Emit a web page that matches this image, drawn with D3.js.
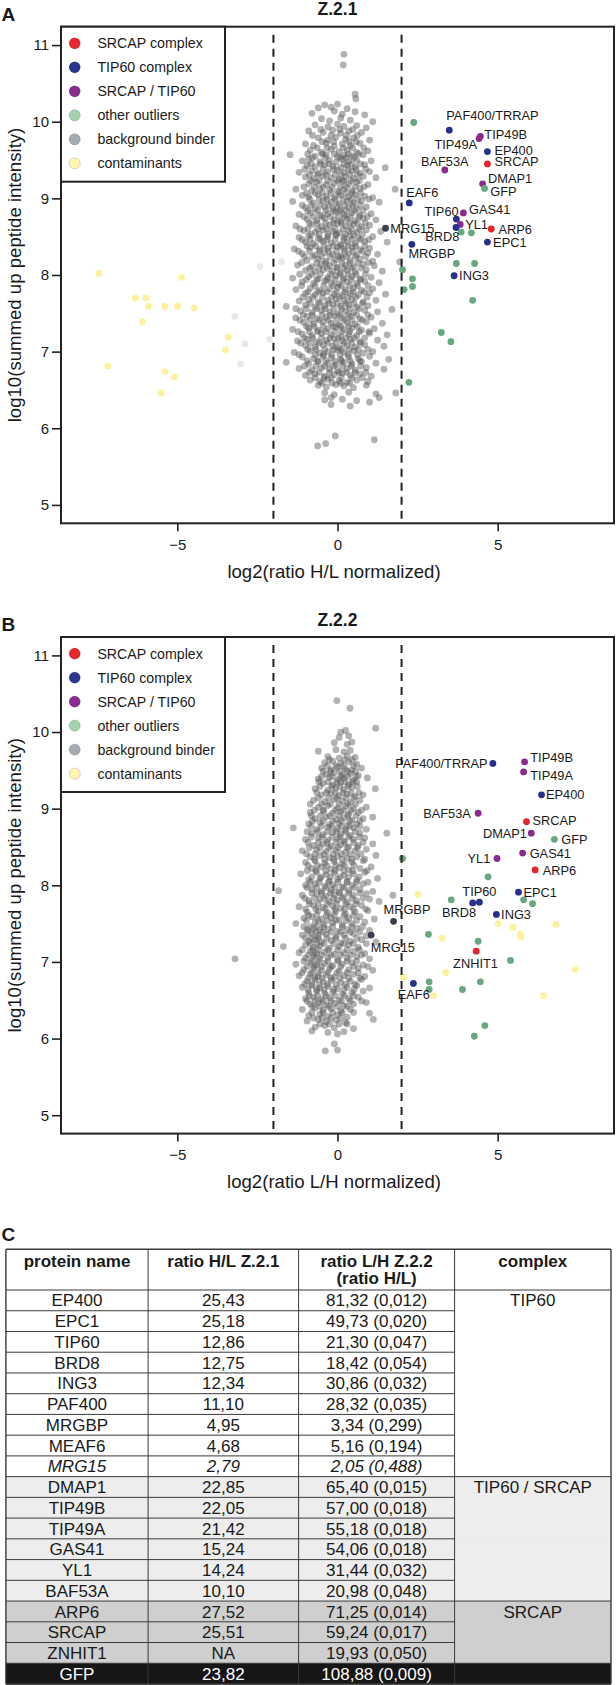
<!DOCTYPE html>
<html><head><meta charset="utf-8">
<script src="https://cdn.jsdelivr.net/npm/d3@7"></script>
<style>
body{margin:0;background:#fff}
svg text{font-family:"Liberation Sans",Arial,Helvetica,sans-serif;fill:#1a1a1a}
</style></head>
<body><svg id="c" width="616" height="1685"></svg>
<script>
// ---------- DATA ----------
const xTicks=[-5,0,5];
const yTicks=[5,6,7,8,9,10,11];
const cutoffs=[-2,2];
const panelTitles=["Z.2.1","Z.2.2"];
const xTitles=["log2(ratio H/L normalized)","log2(ratio L/H normalized)"];
const yTitle="log10(summed up peptide intensity)";
const legendLabels=["SRCAP complex","TIP60 complex","SRCAP / TIP60","other outliers","background binder","contaminants"];

// highlighted proteins: [name, log2 ratio, log10 intensity, group]
const hitsA=[
["PAF400/TRRAP",3.49,9.89,"tip"],["TIP49B",4.46,9.81,"both"],["TIP49A",4.42,9.78,"both"],
["EP400",4.68,9.61,"tip"],["SRCAP",4.68,9.45,"srcap"],["BAF53A",3.35,9.37,"both"],
["DMAP1",4.53,9.19,"both"],["GFP",4.59,9.13,"other"],["EAF6",2.24,8.94,"tip"],
["GAS41",3.93,8.81,"both"],["TIP60",3.71,8.73,"tip"],["YL1",3.83,8.66,"both"],
["BRD8",3.70,8.62,"tip"],["ARP6",4.80,8.60,"srcap"],["EPC1",4.68,8.43,"tip"],
["MRG15",1.50,8.61,"dark"],["MRGBP",2.32,8.40,"tip"],["ING3",3.64,7.99,"tip"]];
const hitsB=[
["PAF400/TRRAP",4.85,9.59,"tip"],["TIP49B",5.84,9.61,"both"],["TIP49A",5.81,9.48,"both"],
["EP400",6.37,9.18,"tip"],["BAF53A",4.39,8.94,"both"],["SRCAP",5.90,8.83,"srcap"],
["DMAP1",6.05,8.68,"both"],["GFP",6.77,8.60,"other"],["YL1",4.98,8.35,"both"],
["GAS41",5.78,8.42,"both"],["ARP6",6.17,8.20,"srcap"],["EPC1",5.65,7.91,"tip"],
["TIP60",4.43,7.78,"tip"],["BRD8",4.22,7.77,"tip"],["ING3",4.96,7.62,"tip"],
["MRGBP",1.75,7.53,"dark"],["MRG15",1.05,7.35,"dark"],["ZNHIT1",4.33,7.14,"srcap"],
["EAF6",2.37,6.72,"tip"]];

const otherA=[[2.38,9.99],[3.86,8.56],[4.18,8.55],[3.71,8.15],[4.28,8.15],[2.34,7.95],[2.34,7.85],[2.08,7.81],[2.03,8.07],[4.22,7.67],[3.24,7.25],[3.54,7.13],[2.23,6.60]];
const otherB=[[4.70,8.11],[3.55,7.81],[5.81,7.81],[6.09,7.76],[2.84,7.36],[4.39,7.27],[5.40,7.02],[2.86,6.74],[4.46,6.74],[3.90,6.64],[2.86,6.64],[2.03,8.35],[4.60,6.17],[4.27,6.03]];
const contamA=[[-7.45,8.02],[-4.87,7.97],[-6.31,7.70],[-5.98,7.70],[-5.90,7.59],[-5.39,7.59],[-4.99,7.59],[-4.47,7.57],[-6.09,7.39],[-3.41,7.19],[-3.50,7.02],[-7.17,6.81],[-5.39,6.74],[-5.09,6.67],[-5.51,6.46]];
const contamB=[[2.51,7.88],[3.26,7.31],[5.01,7.50],[5.48,7.45],[5.73,7.33],[5.70,7.36],[6.82,7.49],[7.43,6.90],[3.38,6.86],[2.06,6.80],[3.00,6.56],[6.43,6.56]];
const faintA=[[-2.42,8.11],[-1.75,8.17],[-3.21,7.46],[-2.89,7.10],[-2.12,7.16],[-3.03,6.84],[-1.98,7.79]];

const bgA=[[0.2,10.88],[0.18,10.74],[0.55,10.36],[0.57,10.30],
[-0.6,10.18],[-0.4,10.22],[-0.2,10.19],[0.0,10.23],[0.3,10.17],
[-0.8,10.11],[-0.1,10.14],[0.15,10.1],[0.55,10.13],[0.85,10.09],
[-0.5,10.04],[-0.25,10.01],[0.1,10.05],[0.4,10.02],[1.1,10.0],
[-0.7,9.96],[-0.3,9.93],[0.0,9.97],[0.2,9.94],[0.6,9.95],[0.9,9.92],
[-0.9,9.88],[-0.45,9.86],[-0.15,9.89],[0.1,9.85],[0.35,9.88],[0.75,9.86],
[-0.6,9.79],[-0.3,9.76],[-0.05,9.8],[0.25,9.77],[0.5,9.79],[1.0,9.76],
[-1.0,9.71],[-0.75,9.69],[-0.35,9.72],[-0.1,9.68],[0.15,9.71],[0.4,9.69],[0.7,9.72],
[-0.85,9.63],[-0.5,9.6],[-0.2,9.64],[0.05,9.61],[0.3,9.63],[0.6,9.6],[0.95,9.62],
[-1.48,9.57],[-0.7,9.55],[-0.35,9.57],[0.0,9.54],[0.2,9.56],[0.45,9.55],[0.8,9.57],
[-1.1,9.49],[-0.9,9.51],[-0.55,9.48],[-0.25,9.5],[-0.05,9.47],[0.15,9.51],[0.35,9.48],[0.6,9.5],[1.05,9.49],
[-0.95,9.43],[-0.7,9.41],[-0.4,9.44],[-0.15,9.42],[0.1,9.4],[0.3,9.43],[0.55,9.41],[0.85,9.44],[1.49,9.4],
[-1.2,9.34],[-0.8,9.36],[-0.6,9.33],[-0.3,9.35],[0.0,9.37],[0.2,9.34],[0.45,9.36],[0.7,9.33],[1.0,9.35],
[-1.0,9.28],[-0.75,9.26],[-0.45,9.29],[-0.2,9.27],[0.05,9.25],[0.25,9.28],[0.5,9.26],[0.8,9.29],[1.2,9.27],
[-0.9,9.19],[-0.65,9.21],[-0.35,9.18],[-0.1,9.2],[0.15,9.22],[0.35,9.19],[0.6,9.21],[0.95,9.18],
[-1.3,9.12],[-0.8,9.1],[-0.55,9.13],[-0.25,9.11],[0.0,9.09],[0.2,9.12],[0.45,9.1],[0.7,9.13],[1.8,9.12],
[-1.1,9.04],[-0.9,9.02],[-0.6,9.05],[-0.35,9.03],[-0.1,9.01],[0.1,9.04],[0.35,9.02],[0.55,9.05],[0.85,9.03],[1.1,9.01],
[-1.4,8.96],[-0.75,8.94],[-0.45,8.97],[-0.2,8.95],[0.05,8.93],[0.3,8.96],[0.5,8.94],[0.75,8.97],[1.3,8.95],
[-1.0,8.88],[-0.7,8.86],[-0.4,8.89],[-0.15,8.87],[0.1,8.85],[0.35,8.88],[0.6,8.86],[0.9,8.89],
[-1.2,8.79],[-0.85,8.81],[-0.55,8.78],[-0.3,8.8],[-0.05,8.82],[0.2,8.79],[0.45,8.81],[0.7,8.78],[1.05,8.8],
[-0.95,8.73],[-0.65,8.71],[-0.4,8.74],[-0.1,8.72],[0.1,8.7],[0.3,8.73],[0.55,8.71],[0.8,8.74],[1.2,8.72],
[-1.3,8.64],[-0.8,8.66],[-0.5,8.63],[-0.25,8.65],[0.0,8.67],[0.25,8.64],[0.5,8.66],[0.75,8.63],[1.0,8.65],
[-1.05,8.58],[-0.7,8.56],[-0.45,8.59],[-0.15,8.57],[0.05,8.55],[0.35,8.58],[0.6,8.56],[0.9,8.59],[1.35,8.57],
[-1.2,8.49],[-0.9,8.51],[-0.6,8.48],[-0.3,8.5],[-0.05,8.52],[0.2,8.49],[0.4,8.51],[0.65,8.48],[1.1,8.5],
[-1.0,8.43],[-0.75,8.41],[-0.45,8.44],[-0.2,8.42],[0.1,8.4],[0.3,8.43],[0.55,8.41],[0.85,8.44],[1.55,8.43],
[-1.35,8.34],[-0.85,8.36],[-0.55,8.33],[-0.3,8.35],[0.0,8.37],[0.2,8.34],[0.45,8.36],[0.7,8.33],[1.0,8.35],
[-1.1,8.28],[-0.7,8.26],[-0.4,8.29],[-0.15,8.27],[0.1,8.25],[0.35,8.28],[0.6,8.26],[0.95,8.29],[1.25,8.27],
[-0.95,8.19],[-0.6,8.21],[-0.35,8.18],[-0.05,8.2],[0.15,8.22],[0.4,8.19],[0.7,8.21],[1.1,8.18],[1.94,8.17],
[-1.25,8.13],[-0.8,8.11],[-0.5,8.14],[-0.25,8.12],[0.0,8.1],[0.25,8.13],[0.5,8.11],[0.8,8.14],[1.15,8.12],
[-1.0,8.06],[-0.7,8.04],[-0.45,8.07],[-0.15,8.05],[0.1,8.03],[0.3,8.06],[0.55,8.04],[0.9,8.07],[1.4,8.05],
[-1.4,7.96],[-0.9,7.98],[-0.6,7.95],[-0.3,7.97],[-0.05,7.99],[0.2,7.96],[0.45,7.98],[0.7,7.95],[1.05,7.97],
[-1.1,7.91],[-0.75,7.89],[-0.4,7.92],[-0.2,7.9],[0.05,7.88],[0.3,7.91],[0.6,7.89],[0.85,7.92],[1.3,7.9],
[-1.3,7.81],[-0.85,7.83],[-0.55,7.8],[-0.25,7.82],[0.0,7.84],[0.25,7.81],[0.5,7.83],[0.75,7.8],[1.1,7.82],
[-1.0,7.76],[-0.7,7.74],[-0.45,7.77],[-0.1,7.75],[0.15,7.73],[0.4,7.76],[0.65,7.74],[1.0,7.77],[1.5,7.75],
[-1.2,7.66],[-0.9,7.68],[-0.6,7.65],[-0.3,7.67],[-0.05,7.69],[0.2,7.66],[0.45,7.68],[0.8,7.65],[1.2,7.67],
[-1.6,7.59],[-1.0,7.61],[-0.7,7.58],[-0.4,7.6],[-0.15,7.62],[0.1,7.59],[0.35,7.61],[0.6,7.58],[0.95,7.6],
[-1.15,7.53],[-0.8,7.51],[-0.5,7.54],[-0.25,7.52],[0.0,7.5],[0.25,7.53],[0.5,7.51],[0.85,7.54],[1.25,7.52],[1.7,7.55],
[-1.3,7.44],[-0.95,7.46],[-0.65,7.43],[-0.35,7.45],[-0.1,7.47],[0.15,7.44],[0.4,7.46],[0.7,7.43],[1.05,7.45],
[-1.05,7.38],[-0.75,7.36],[-0.45,7.39],[-0.2,7.37],[0.05,7.35],[0.3,7.38],[0.55,7.36],[0.9,7.39],[1.4,7.37],
[-1.4,7.29],[-0.9,7.31],[-0.6,7.28],[-0.3,7.3],[-0.05,7.32],[0.2,7.29],[0.45,7.31],[0.75,7.28],[1.15,7.3],
[-1.1,7.23],[-0.8,7.21],[-0.5,7.24],[-0.2,7.22],[0.1,7.2],[0.35,7.23],[0.6,7.21],[1.0,7.24],[1.55,7.22],
[-1.25,7.14],[-0.95,7.16],[-0.65,7.13],[-0.35,7.15],[-0.1,7.17],[0.15,7.14],[0.4,7.16],[0.7,7.13],[1.25,7.15],
[-1.0,7.08],[-0.7,7.06],[-0.45,7.09],[-0.15,7.07],[0.05,7.05],[0.3,7.08],[0.55,7.06],[0.85,7.09],[1.45,7.07],
[-1.35,6.99],[-0.85,7.01],[-0.55,6.98],[-0.3,7.0],[0.0,7.02],[0.2,6.99],[0.5,7.01],[0.8,6.98],[1.1,7.0],
[-1.1,6.93],[-0.75,6.91],[-0.45,6.94],[-0.2,6.92],[0.1,6.9],[0.35,6.93],[0.65,6.91],[1.0,6.94],[1.6,6.9],
[-1.6,6.86],[-0.9,6.84],[-0.6,6.87],[-0.3,6.85],[-0.05,6.83],[0.2,6.86],[0.45,6.84],[0.75,6.87],[1.2,6.85],
[-1.2,6.78],[-0.8,6.76],[-0.5,6.79],[-0.25,6.77],[0.0,6.75],[0.3,6.78],[0.55,6.76],[0.9,6.79],[1.45,6.77],
[-1.0,6.69],[-0.7,6.71],[-0.4,6.68],[-0.1,6.7],[0.15,6.72],[0.4,6.69],[0.7,6.71],[1.05,6.68],
[-0.85,6.63],[-0.55,6.61],[-0.3,6.64],[0.05,6.62],[0.3,6.6],[0.6,6.63],[0.95,6.61],
[-0.6,6.56],[-0.35,6.54],[-0.05,6.57],[0.2,6.55],[0.5,6.53],[0.9,6.56],
[-0.4,6.46],[-0.1,6.44],[0.35,6.47],[1.2,6.45],[1.82,6.46],
[-0.4,6.37],[-0.2,6.4],[0.15,6.38],[0.6,6.36],[1.0,6.34],[1.3,6.4],
[-0.2,6.31],[0.4,6.29],[-0.07,5.9],[1.15,5.85],[-0.37,5.8],[-0.62,5.77]];

const coreA=[[-0.52,9.9],[0.07,9.9],[0.48,9.9],
[-0.78,9.82],[-0.2,9.82],[0.28,9.82],[0.62,9.82],
[-0.48,9.74],[-0.12,9.74],[0.36,9.74],[0.58,9.74],
[-0.63,9.66],[-0.33,9.66],[0.18,9.66],[0.47,9.66],[0.82,9.66],
[-0.93,9.58],[-0.47,9.58],[-0.1,9.58],[0.34,9.58],[0.66,9.58],
[-0.78,9.53],[-0.38,9.53],[0.08,9.53],[0.27,9.53],[0.52,9.53],
[-0.82,9.45],[-0.53,9.45],[-0.27,9.45],[0.2,9.45],[0.43,9.45],[0.72,9.45],
[-1.02,9.38],[-0.45,9.38],[-0.12,9.38],[0.33,9.38],[0.58,9.38],[0.88,9.38],
[-0.88,9.31],[-0.62,9.31],[-0.37,9.31],[-0.07,9.31],[0.12,9.31],[0.38,9.31],[0.62,9.31],
[-0.83,9.23],[-0.57,9.23],[-0.3,9.23],[0.0,9.23],[0.2,9.23],[0.43,9.23],[0.68,9.23],
[-1.05,9.15],[-0.72,9.15],[-0.45,9.15],[-0.17,9.15],[0.09,9.15],[0.28,9.15],[0.55,9.15],[0.83,9.15],
[-0.97,9.07],[-0.7,9.07],[-0.47,9.07],[-0.2,9.07],[0.05,9.07],[0.27,9.07],[0.47,9.07],[0.72,9.07],
[-0.87,8.99],[-0.57,8.99],[-0.33,8.99],[-0.07,8.99],[0.18,8.99],[0.42,8.99],[0.63,8.99],[0.98,8.99],
[-1.1,8.91],[-0.82,8.91],[-0.55,8.91],[-0.28,8.91],[-0.02,8.91],[0.22,8.91],[0.47,8.91],[0.7,8.91],
[-0.93,8.84],[-0.62,8.84],[-0.37,8.84],[-0.12,8.84],[0.07,8.84],[0.28,8.84],[0.53,8.84],[0.8,8.84],
[-1.05,8.76],[-0.75,8.76],[-0.48,8.76],[-0.22,8.76],[0.03,8.76],[0.23,8.76],[0.4,8.76],[0.67,8.76],[0.93,8.76],
[-0.88,8.68],[-0.63,8.68],[-0.37,8.68],[-0.13,8.68],[0.12,8.68],[0.38,8.68],[0.62,8.68],[0.87,8.68],
[-1.17,8.6],[-0.92,8.6],[-0.62,8.6],[-0.33,8.6],[-0.08,8.6],[0.17,8.6],[0.43,8.6],[0.68,8.6],
[-0.83,8.53],[-0.57,8.53],[-0.3,8.53],[-0.03,8.53],[0.25,8.53],[0.5,8.53],[0.78,8.53],
[-1.1,8.46],[-0.85,8.46],[-0.53,8.46],[-0.33,8.46],[-0.07,8.46],[0.2,8.46],[0.45,8.46],[0.72,8.46],[0.98,8.46],
[-0.95,8.38],[-0.68,8.38],[-0.42,8.38],[-0.13,8.38],[0.1,8.38],[0.33,8.38],[0.57,8.38],[0.85,8.38],
[-1.22,8.31],[-0.88,8.31],[-0.57,8.31],[-0.28,8.31],[-0.03,8.31],[0.22,8.31],[0.48,8.31],[0.78,8.31],
[-1.03,8.24],[-0.78,8.24],[-0.5,8.24],[-0.23,8.24],[0.03,8.24],[0.28,8.24],[0.55,8.24],[0.88,8.24],
[-1.12,8.16],[-0.65,8.16],[-0.38,8.16],[-0.12,8.16],[0.13,8.16],[0.38,8.16],[0.63,8.16],[0.97,8.16],
[-0.87,8.09],[-0.58,8.09],[-0.32,8.09],[-0.02,8.09],[0.2,8.09],[0.43,8.09],[0.73,8.09],
[-1.18,8.01],[-0.8,8.01],[-0.53,8.01],[-0.22,8.01],[0.07,8.01],[0.33,8.01],[0.58,8.01],[0.87,8.01],
[-0.97,7.94],[-0.65,7.94],[-0.33,7.94],[-0.08,7.94],[0.17,7.94],[0.43,7.94],[0.73,7.94],
[-1.12,7.86],[-0.7,7.86],[-0.43,7.86],[-0.13,7.86],[0.12,7.86],[0.38,7.86],[0.63,7.86],[0.95,7.86],
[-0.92,7.78],[-0.62,7.78],[-0.33,7.78],[-0.03,7.78],[0.22,7.78],[0.48,7.78],[0.83,7.78],
[-1.08,7.71],[-0.77,7.71],[-0.47,7.71],[-0.18,7.71],[0.07,7.71],[0.32,7.71],[0.57,7.71],[0.92,7.71],
[-0.85,7.63],[-0.55,7.63],[-0.27,7.63],[0.0,7.63],[0.27,7.63],[0.52,7.63],[0.78,7.63],
[-1.3,7.56],[-0.97,7.56],[-0.65,7.56],[-0.38,7.56],[-0.12,7.56],[0.13,7.56],[0.38,7.56],[0.67,7.56],
[-1.07,7.48],[-0.78,7.48],[-0.48,7.48],[-0.22,7.48],[0.08,7.48],[0.33,7.48],[0.6,7.48],[0.95,7.48],
[-1.17,7.41],[-0.85,7.41],[-0.57,7.41],[-0.28,7.41],[-0.03,7.41],[0.22,7.41],[0.45,7.41],[0.77,7.41],
[-0.97,7.33],[-0.73,7.33],[-0.45,7.33],[-0.13,7.33],[0.1,7.33],[0.35,7.33],[0.62,7.33],
[-1.23,7.26],[-0.88,7.26],[-0.63,7.26],[-0.37,7.26],[-0.08,7.26],[0.13,7.26],[0.38,7.26],[0.68,7.26],[0.98,7.26],
[-1.03,7.18],[-0.78,7.18],[-0.5,7.18],[-0.23,7.18],[0.02,7.18],[0.27,7.18],[0.52,7.18],[0.85,7.18],
[-1.15,7.11],[-0.85,7.11],[-0.57,7.11],[-0.3,7.11],[-0.05,7.11],[0.2,7.11],[0.45,7.11],[0.72,7.11],
[-0.93,7.03],[-0.67,7.03],[-0.4,7.03],[-0.12,7.03],[0.12,7.03],[0.37,7.03],[0.65,7.03],[0.95,7.03],
[-1.2,6.96],[-0.7,6.96],[-0.43,6.96],[-0.17,6.96],[0.08,6.96],[0.33,6.96],[0.62,6.96],
[-0.95,6.88],[-0.62,6.88],[-0.37,6.88],[-0.08,6.88],[0.13,6.88],[0.4,6.88],[0.7,6.88],
[-1.03,6.81],[-0.68,6.81],[-0.4,6.81],[-0.12,6.81],[0.15,6.81],[0.43,6.81],[0.72,6.81],
[-0.87,6.73],[-0.57,6.73],[-0.25,6.73],[0.05,6.73],[0.28,6.73],[0.55,6.73],[0.88,6.73],
[-0.7,6.66],[-0.42,6.66],[-0.2,6.66],[0.12,6.66],[0.45,6.66],[0.78,6.66],
[-0.48,6.59],[-0.17,6.59],[0.1,6.59],[0.38,6.59]];

const bgB=[[-0.02,10.41],[0.39,10.31],[1.19,10.05],[0.1,10.0],[0.25,10.02],[0.05,9.93],[0.35,9.95],
[-0.1,9.86],[0.3,9.84],[0.45,9.87],[-0.6,9.75],[-0.05,9.77],[0.2,9.74],[0.4,9.76],
[-0.3,9.68],[0.05,9.66],[0.3,9.69],[0.55,9.67],[-0.4,9.6],[-0.15,9.62],[0.1,9.59],[0.35,9.61],[0.6,9.58],
[-0.5,9.53],[-0.2,9.51],[0.0,9.54],[0.25,9.52],[0.45,9.5],[0.75,9.53],
[-0.35,9.45],[-0.1,9.47],[0.15,9.44],[0.4,9.46],[0.65,9.43],
[-0.6,9.39],[-0.25,9.41],[0.0,9.38],[0.2,9.4],[0.5,9.37],[0.93,9.4],
[-0.45,9.33],[-0.15,9.31],[0.1,9.34],[0.35,9.32],[0.6,9.35],
[-0.7,9.26],[-0.3,9.24],[-0.05,9.27],[0.2,9.25],[0.45,9.28],[1.18,9.26],
[-0.5,9.18],[-0.2,9.2],[0.05,9.17],[0.3,9.19],[0.55,9.16],[0.8,9.18],
[-0.75,9.11],[-0.4,9.09],[-0.1,9.12],[0.15,9.1],[0.4,9.08],[0.7,9.11],
[-0.6,9.02],[-0.3,9.04],[0.0,9.01],[0.25,9.03],[0.5,9.0],[0.9,9.02],
[-0.85,8.95],[-0.45,8.97],[-0.15,8.94],[0.1,8.96],[0.35,8.93],[0.65,8.95],
[-0.7,8.87],[-0.35,8.89],[-0.05,8.86],[0.2,8.88],[0.45,8.85],[0.8,8.87],[1.1,8.89],
[-0.9,8.8],[-0.55,8.82],[-0.25,8.79],[0.05,8.81],[0.3,8.78],[0.6,8.8],
[-1.38,8.75],[-0.65,8.73],[-0.3,8.76],[0.0,8.74],[0.25,8.72],[0.5,8.75],[0.9,8.73],
[-0.8,8.68],[-0.45,8.66],[-0.15,8.69],[0.1,8.67],[0.4,8.65],[0.7,8.68],[1.54,8.68],
[-1.0,8.6],[-0.6,8.62],[-0.3,8.59],[0.0,8.61],[0.2,8.58],[0.5,8.6],[0.85,8.62],
[-0.75,8.52],[-0.45,8.54],[-0.2,8.51],[0.1,8.53],[0.35,8.5],[0.65,8.52],[1.1,8.54],
[-1.1,8.45],[-0.65,8.47],[-0.35,8.44],[-0.05,8.46],[0.25,8.43],[0.55,8.45],[0.9,8.47],
[-0.85,8.37],[-0.55,8.39],[-0.25,8.36],[0.0,8.38],[0.3,8.35],[0.6,8.37],[1.2,8.39],
[-1.0,8.3],[-0.7,8.32],[-0.4,8.29],[-0.1,8.31],[0.15,8.28],[0.45,8.3],[0.8,8.32],
[-0.8,8.22],[-0.5,8.24],[-0.2,8.21],[0.05,8.23],[0.35,8.2],[0.7,8.22],[1.05,8.24],
[-1.15,8.15],[-0.65,8.17],[-0.35,8.14],[-0.1,8.16],[0.2,8.13],[0.5,8.15],[0.85,8.17],
[-0.9,8.07],[-0.55,8.09],[-0.25,8.06],[0.0,8.08],[0.3,8.05],[0.6,8.07],[1.25,8.09],
[-1.0,8.0],[-0.7,8.02],[-0.4,7.99],[-0.15,8.01],[0.15,7.98],[0.45,8.0],[0.8,8.02],
[-1.84,7.93],[-0.8,7.95],[-0.5,7.92],[-0.2,7.94],[0.05,7.91],[0.35,7.93],[0.7,7.95],[1.1,7.92],
[-1.1,7.87],[-0.65,7.89],[-0.35,7.86],[-0.1,7.88],[0.2,7.85],[0.5,7.87],[0.9,7.89],[1.73,7.87],
[-0.9,7.8],[-0.55,7.82],[-0.25,7.79],[0.0,7.81],[0.3,7.78],[0.6,7.8],[1.0,7.82],[1.3,7.79],
[-1.2,7.72],[-0.75,7.74],[-0.45,7.71],[-0.15,7.73],[0.1,7.7],[0.4,7.72],[0.75,7.74],
[-0.95,7.65],[-0.6,7.67],[-0.3,7.64],[-0.05,7.66],[0.25,7.63],[0.55,7.65],[0.95,7.67],
[-1.05,7.57],[-0.8,7.59],[-0.5,7.56],[-0.2,7.58],[0.05,7.55],[0.35,7.57],[0.7,7.59],[1.15,7.56],
[-1.3,7.5],[-0.7,7.52],[-0.45,7.49],[-0.15,7.51],[0.15,7.48],[0.45,7.5],[0.85,7.52],
[-0.95,7.42],[-0.75,7.44],[-0.55,7.41],[-0.3,7.43],[0.0,7.4],[0.3,7.42],[0.6,7.44],[1.0,7.41],
[-1.1,7.35],[-0.8,7.37],[-0.6,7.34],[-0.35,7.36],[-0.05,7.33],[0.2,7.35],[0.5,7.37],[0.9,7.34],
[-0.9,7.27],[-0.7,7.29],[-0.5,7.26],[-0.2,7.28],[0.1,7.25],[0.4,7.27],[0.75,7.29],[1.2,7.26],
[-1.69,7.2],[-1.0,7.22],[-0.75,7.19],[-0.55,7.21],[-0.25,7.18],[0.05,7.2],[0.35,7.22],[0.65,7.19],
[-1.2,7.12],[-0.85,7.14],[-0.65,7.11],[-0.4,7.13],[-0.1,7.1],[0.2,7.12],[0.5,7.14],[0.85,7.11],
[-1.0,7.05],[-0.75,7.07],[-0.55,7.04],[-0.3,7.06],[0.0,7.03],[0.3,7.05],[0.6,7.07],[1.0,7.04],[-3.2,7.04],
[-1.3,6.97],[-0.85,6.99],[-0.65,6.96],[-0.4,6.98],[-0.15,6.95],[0.15,6.97],[0.45,6.99],[0.8,6.96],
[-1.05,6.9],[-0.75,6.92],[-0.5,6.89],[-0.25,6.91],[0.05,6.88],[0.35,6.9],[0.65,6.92],[1.1,6.89],
[-1.2,6.82],[-0.85,6.84],[-0.6,6.81],[-0.35,6.83],[-0.1,6.8],[0.2,6.82],[0.5,6.84],[0.85,6.81],
[-0.95,6.75],[-0.7,6.77],[-0.45,6.74],[-0.2,6.76],[0.1,6.73],[0.4,6.75],[0.75,6.77],
[-1.1,6.67],[-0.8,6.69],[-0.55,6.66],[-0.3,6.68],[0.0,6.65],[0.3,6.67],[0.6,6.69],[1.0,6.66],
[-0.9,6.6],[-0.65,6.62],[-0.4,6.59],[-0.15,6.61],[0.15,6.58],[0.45,6.6],[0.8,6.62],
[-1.0,6.52],[-0.75,6.54],[-0.5,6.51],[-0.25,6.53],[0.05,6.5],[0.35,6.52],[0.65,6.54],
[-0.85,6.45],[-0.6,6.47],[-0.35,6.44],[-0.1,6.46],[0.2,6.43],[0.5,6.45],[0.9,6.47],
[-1.1,6.38],[-0.7,6.4],[-0.45,6.37],[-0.2,6.39],[0.1,6.36],[0.4,6.38],
[-0.9,6.3],[-0.55,6.32],[-0.3,6.29],[0.0,6.31],[0.3,6.28],[1.0,6.33],
[-0.95,6.23],[-0.6,6.25],[-0.35,6.22],[-0.05,6.24],[0.25,6.21],[1.12,6.25],
[-0.7,6.15],[-0.4,6.17],[-0.1,6.14],[0.5,6.13],[-0.8,6.1],[-0.3,6.08],[0.0,6.06],[0.2,6.09],
[-0.1,5.93],[-0.38,5.84],[0.0,5.85]];

const coreB=[[-0.25,9.64],[0.22,9.64],[0.45,9.64],
[-0.32,9.56],[-0.05,9.56],[0.18,9.56],[0.5,9.56],
[-0.45,9.49],[-0.22,9.49],[0.08,9.49],[0.3,9.49],[0.57,9.49],
[-0.5,9.42],[-0.17,9.42],[0.1,9.42],[0.32,9.42],[0.58,9.42],
[-0.58,9.35],[-0.3,9.35],[-0.02,9.35],[0.22,9.35],[0.47,9.35],
[-0.55,9.29],[-0.18,9.29],[0.07,9.29],[0.33,9.29],[0.62,9.29],
[-0.65,9.21],[-0.35,9.21],[-0.07,9.21],[0.17,9.21],[0.42,9.21],[0.67,9.21],
[-0.6,9.14],[-0.28,9.14],[-0.02,9.14],[0.27,9.14],[0.5,9.14],
[-0.85,9.06],[-0.5,9.06],[-0.22,9.06],[0.05,9.06],[0.32,9.06],[0.57,9.06],
[-0.72,8.98],[-0.43,8.98],[-0.07,8.98],[0.18,8.98],[0.42,8.98],[0.75,8.98],
[-0.82,8.91],[-0.53,8.91],[-0.25,8.91],[0.05,8.91],[0.32,8.91],[0.58,8.91],
[-0.78,8.84],[-0.45,8.84],[-0.15,8.84],[0.12,8.84],[0.38,8.84],[0.7,8.84],
[-0.82,8.77],[-0.5,8.77],[-0.17,8.77],[0.12,8.77],[0.38,8.77],[0.7,8.77],
[-0.95,8.7],[-0.62,8.7],[-0.32,8.7],[-0.03,8.7],[0.25,8.7],[0.55,8.7],
[-0.82,8.63],[-0.48,8.63],[-0.17,8.63],[0.08,8.63],[0.35,8.63],[0.68,8.63],
[-0.92,8.56],[-0.6,8.56],[-0.33,8.56],[-0.05,8.56],[0.22,8.56],[0.5,8.56],[0.8,8.56],
[-0.88,8.49],[-0.55,8.49],[-0.27,8.49],[0.02,8.49],[0.3,8.49],[0.62,8.49],
[-0.97,8.41],[-0.7,8.41],[-0.42,8.41],[-0.13,8.41],[0.12,8.41],[0.4,8.41],[0.73,8.41],
[-0.72,8.34],[-0.4,8.34],[-0.12,8.34],[0.15,8.34],[0.45,8.34],[0.85,8.34],
[-0.92,8.26],[-0.63,8.26],[-0.33,8.26],[-0.05,8.26],[0.22,8.26],[0.52,8.26],
[-0.95,8.19],[-0.68,8.19],[-0.37,8.19],[-0.07,8.19],[0.2,8.19],[0.47,8.19],[0.92,8.19],
[-0.8,8.11],[-0.5,8.11],[-0.22,8.11],[0.08,8.11],[0.35,8.11],[0.68,8.11],
[-0.85,8.04],[-0.57,8.04],[-0.28,8.04],[0.02,8.04],[0.3,8.04],[0.6,8.04],[0.95,8.04],
[-0.95,7.97],[-0.65,7.97],[-0.35,7.97],[-0.08,7.97],[0.2,7.97],[0.52,7.97],
[-0.8,7.9],[-0.5,7.9],[-0.22,7.9],[0.07,7.9],[0.35,7.9],[0.7,7.9],
[-1.02,7.83],[-0.72,7.83],[-0.42,7.83],[-0.13,7.83],[0.15,7.83],[0.45,7.83],[0.8,7.83],
[-0.88,7.76],[-0.6,7.76],[-0.32,7.76],[-0.03,7.76],[0.25,7.76],[0.57,7.76],
[-1.0,7.69],[-0.68,7.69],[-0.38,7.69],[-0.08,7.69],[0.22,7.69],[0.5,7.69],[0.88,7.69],
[-0.9,7.61],[-0.65,7.61],[-0.35,7.61],[-0.1,7.61],[0.2,7.61],[0.5,7.61],
[-0.97,7.54],[-0.6,7.54],[-0.32,7.54],[-0.05,7.54],[0.27,7.54],[0.6,7.54],
[-1.05,7.46],[-0.85,7.46],[-0.65,7.46],[-0.43,7.46],[-0.15,7.46],[0.15,7.46],[0.45,7.46],[0.78,7.46],
[-0.92,7.39],[-0.68,7.39],[-0.47,7.39],[-0.2,7.39],[0.1,7.39],[0.4,7.39],[0.7,7.39],
[-1.0,7.31],[-0.8,7.31],[-0.6,7.31],[-0.33,7.31],[-0.05,7.31],[0.25,7.31],[0.6,7.31],
[-0.85,7.24],[-0.65,7.24],[-0.42,7.24],[-0.12,7.24],[0.2,7.24],[0.5,7.24],[0.9,7.24],
[-1.1,7.16],[-0.78,7.16],[-0.6,7.16],[-0.3,7.16],[0.0,7.16],[0.3,7.16],[0.68,7.16],
[-0.92,7.09],[-0.72,7.09],[-0.5,7.09],[-0.2,7.09],[0.1,7.09],[0.4,7.09],[0.75,7.09],
[-1.05,7.01],[-0.8,7.01],[-0.6,7.01],[-0.3,7.01],[0.02,7.01],[0.3,7.01],[0.6,7.01],
[-0.95,6.94],[-0.72,6.94],[-0.5,6.94],[-0.2,6.94],[0.1,6.94],[0.5,6.94],[0.95,6.94],
[-1.1,6.86],[-0.8,6.86],[-0.6,6.86],[-0.3,6.86],[-0.02,6.86],[0.3,6.86],[0.65,6.86],
[-0.9,6.79],[-0.7,6.79],[-0.48,6.79],[-0.2,6.79],[0.08,6.79],[0.35,6.79],[0.7,6.79],
[-1.02,6.71],[-0.8,6.71],[-0.57,6.71],[-0.32,6.71],[-0.05,6.71],[0.25,6.71],[0.55,6.71],
[-0.92,6.64],[-0.65,6.64],[-0.42,6.64],[-0.12,6.64],[0.2,6.64],[0.52,6.64],
[-0.88,6.56],[-0.62,6.56],[-0.35,6.56],[-0.07,6.56],[0.22,6.56],[0.5,6.56],
[-0.95,6.49],[-0.7,6.49],[-0.45,6.49],[-0.2,6.49],[0.12,6.49],[0.4,6.49],[0.75,6.49],
[-0.78,6.42],[-0.55,6.42],[-0.28,6.42],[0.0,6.42],[0.3,6.42],
[-0.8,6.34],[-0.45,6.34],[-0.15,6.34],[0.15,6.34],[0.5,6.34],
[-0.75,6.27],[-0.48,6.27],[-0.2,6.27],[0.1,6.27],
[-0.55,6.19],[-0.25,6.19],[0.05,6.19],[0.3,6.19]];

// table
const proteins=["EP400","EPC1","TIP60","BRD8","ING3","PAF400","MRGBP","MEAF6","MRG15","DMAP1","TIP49B","TIP49A","GAS41","YL1","BAF53A","ARP6","SRCAP","ZNHIT1","GFP"];
const ratioHL=["25,43","25,18","12,86","12,75","12,34","11,10","4,95","4,68","2,79","22,85","22,05","21,42","15,24","14,24","10,10","27,52","25,51","NA","23,82"];
const ratioLH=["81,32 (0,012)","49,73 (0,020)","21,30 (0,047)","18,42 (0,054)","30,86 (0,032)","28,32 (0,035)","3,34 (0,299)","5,16 (0,194)","2,05 (0,488)","65,40 (0,015)","57,00 (0,018)","55,18 (0,018)","54,06 (0,018)","31,44 (0,032)","20,98 (0,048)","71,25 (0,014)","59,24 (0,017)","19,93 (0,050)","108,88 (0,009)"];
const complexOf=["TIP60","TIP60","TIP60","TIP60","TIP60","TIP60","TIP60","TIP60","TIP60","TIP60 / SRCAP","TIP60 / SRCAP","TIP60 / SRCAP","TIP60 / SRCAP","TIP60 / SRCAP","TIP60 / SRCAP","SRCAP","SRCAP","SRCAP","GFP"];
const tableHeaders=[["protein name"],["ratio H/L Z.2.1"],["ratio L/H Z.2.2","(ratio H/L)"],["complex"]];

// ---------- STYLE / LAYOUT ----------
const groupColor={srcap:"#e4262b",tip:"#262f8c",both:"#8a2a8c",other:"#67a880",dark:"#3c3e4c"};
const legendColor=["#e8282d","#2a3592","#8c2b8f","#a0d3ae","#a6aab2","#fff6b0"];
const labelPos=[{
"PAF400/TRRAP":[-3,-14.7,"start"],"TIP49B":[4,-1.4,"start"],"TIP49A":[-2,5.4,"end"],
"EP400":[7,-1,"start"],"SRCAP":[7,-2,"start"],"BAF53A":[0,-8.5,"middle"],
"DMAP1":[5.4,-5,"start"],"GFP":[5.7,3.3,"start"],"EAF6":[-3,-10.7,"start"],
"GAS41":[5.7,-4,"start"],"TIP60":[2.3,-8,"end"],"YL1":[5,0,"start"],
"BRD8":[3.3,9,"end"],"ARP6":[7.3,0,"start"],"EPC1":[5.7,0,"start"],
"MRG15":[4.7,0,"start"],"MRGBP":[-3.4,9.3,"start"],"ING3":[5,0,"start"]},{
"PAF400/TRRAP":[-5.4,0,"end"],"TIP49B":[5.7,-5,"start"],"TIP49A":[6.7,3.3,"start"],
"EP400":[4.4,0,"start"],"BAF53A":[-7.3,0,"end"],"SRCAP":[6,-1,"start"],
"DMAP1":[-4.3,0,"end"],"GFP":[7,0,"start"],"YL1":[-6.7,0,"end"],
"GAS41":[7,0,"start"],"ARP6":[7.6,0,"start"],"EPC1":[5,0,"start"],
"TIP60":[0,-10.3,"middle"],"BRD8":[3.4,9.3,"end"],"ING3":[4.7,0,"start"],
"MRGBP":[13.4,-11.6,"middle"],"MRG15":[-0.3,12,"start"],"ZNHIT1":[-0.7,12.3,"middle"],
"EAF6":[0.4,11,"middle"]}];

const svg=d3.select("#c");
svg.append("rect").attr("width",616).attr("height",1685).attr("fill","#fff");

const L=61,R=614,T=26.7,B=523.3;
const x=d3.scaleLinear().domain([-8.632,8.632]).range([L,R]);
const y=d3.scaleLinear().domain([4.76,11.24]).range([B,T]);
const rPt=3.4;

function panel(idx,offY,bg,core,faint,contam,other,hits){
  const g=svg.append("g").attr("transform",`translate(0,${offY})`);
  g.append("g").selectAll("circle").data(bg.concat(core)).join("circle")
    .attr("cx",d=>x(d[0])).attr("cy",d=>y(d[1])).attr("r",rPt)
    .attr("fill","#505050").attr("fill-opacity",0.44);
  g.append("g").selectAll("circle").data(faint).join("circle")
    .attr("cx",d=>x(d[0])).attr("cy",d=>y(d[1])).attr("r",rPt)
    .attr("fill","#e4e4e4").attr("fill-opacity",0.8);
  g.append("g").selectAll("circle").data(contam).join("circle")
    .attr("cx",d=>x(d[0])).attr("cy",d=>y(d[1])).attr("r",rPt)
    .attr("fill","#fcf19c");
  g.append("g").selectAll("circle").data(other).join("circle")
    .attr("cx",d=>x(d[0])).attr("cy",d=>y(d[1])).attr("r",rPt)
    .attr("fill",groupColor.other);
  g.append("g").selectAll("circle").data(hits).join("circle")
    .attr("cx",d=>x(d[1])).attr("cy",d=>y(d[2])).attr("r",rPt)
    .attr("fill",d=>groupColor[d[3]]);
  const lp=labelPos[idx];
  g.append("g").selectAll("text").data(hits).join("text")
    .attr("x",d=>x(d[1])+lp[d[0]][0]).attr("y",d=>y(d[2])+lp[d[0]][1])
    .attr("dy","0.36em").attr("text-anchor",d=>lp[d[0]][2])
    .attr("font-size",12.8).text(d=>d[0]);
  g.append("g").selectAll("line").data(cutoffs).join("line")
    .attr("x1",d=>x(d)).attr("x2",d=>x(d)).attr("y1",T+8).attr("y2",B)
    .attr("stroke","#222").attr("stroke-width",2).attr("stroke-dasharray","8,6");
  g.append("rect").attr("x",L).attr("y",T).attr("width",R-L).attr("height",B-T)
    .attr("fill","none").attr("stroke","#222").attr("stroke-width",2);
  const ax=g.append("g").attr("transform",`translate(0,${B})`)
    .call(d3.axisBottom(x).tickValues(xTicks).tickSize(8).tickPadding(8).tickFormat(d3.format("d")));
  const ay=g.append("g").attr("transform",`translate(${L},0)`)
    .call(d3.axisLeft(y).tickValues(yTicks).tickSize(9).tickPadding(3).tickFormat(d3.format("d")));
  [ax,ay].forEach(a=>{a.select(".domain").remove();
    a.selectAll("line").attr("stroke","#222").attr("stroke-width",1.6);
    a.selectAll("text").attr("font-size",15).style("font-family",'"Liberation Sans",Arial,sans-serif').attr("fill","#1a1a1a");});
  const lg=g.append("g");
  lg.append("rect").attr("x",L).attr("y",T).attr("width",164).attr("height",155)
    .attr("fill","#fff").attr("stroke","#222").attr("stroke-width",2);
  legendLabels.forEach((t,i)=>{
    lg.append("circle").attr("cx",74.7).attr("cy",43.3+i*24).attr("r",5.6)
      .attr("fill",legendColor[i]).attr("stroke","rgba(0,0,0,0.18)").attr("stroke-width",0.8);
    lg.append("text").attr("x",97.4).attr("y",43.3+i*24).attr("dy","0.36em")
      .attr("font-size",14.2).text(t);
  });
  g.append("text").attr("x",337.5).attr("y",9).attr("dy","0.36em").attr("text-anchor","middle")
    .attr("font-size",17.5).attr("font-weight","bold").text(panelTitles[idx]);
  g.append("text").attr("x",1.5).attr("y",14).attr("dy","0.36em")
    .attr("font-size",19).attr("font-weight","bold").text(idx===0?"A":"B");
  g.append("text").attr("x",334).attr("y",571).attr("dy","0.36em").attr("text-anchor","middle")
    .attr("font-size",18.6).text(xTitles[idx]);
  g.append("text").attr("transform",`translate(14,${(T+B)/2}) rotate(-90)`).attr("dy","0.36em")
    .attr("text-anchor","middle").attr("font-size",18.6).text(yTitle);
}
panel(0,0,bgA,coreA,faintA,contamA,otherA,hitsA);
panel(1,610.3,bgB,coreB,[],contamB,otherB,hitsB);

// ---------- TABLE ----------
const colX=[5.9,148.1,298.6,454.6,611];
const tTop=1249.3,hBot=1290,tBot=1684;
const rowH=(tBot-hBot)/proteins.length;
const groupFill={"TIP60":"#ffffff","TIP60 / SRCAP":"#ededed","SRCAP":"#cfcfcf","GFP":"#161616"};
const tg=svg.append("g");
svg.append("text").attr("x",1.5).attr("y",1234).attr("dy","0.36em")
  .attr("font-size",19).attr("font-weight","bold").text("C");
tg.selectAll("rect.row").data(proteins).join("rect").attr("class","row")
  .attr("x",colX[0]).attr("y",(d,i)=>hBot+i*rowH).attr("width",colX[4]-colX[0]).attr("height",rowH+0.5)
  .attr("fill",(d,i)=>groupFill[complexOf[i]]);
const cx=[0,1,2,3].map(i=>(colX[i]+colX[i+1])/2);
for(let i=0;i<proteins.length;i++){
  const yy=hBot+i*rowH;
  const full= i===0 || complexOf[i]!==complexOf[i-1];
  tg.append("line").attr("x1",colX[0]).attr("x2",full?colX[4]:colX[3]).attr("y1",yy).attr("y2",yy)
    .attr("stroke","#3a3a3a").attr("stroke-width",1);
}
colX.forEach((cxx,i)=>{
  tg.append("line").attr("x1",cxx).attr("x2",cxx).attr("y1",tTop).attr("y2",tBot)
    .attr("stroke","#3a3a3a").attr("stroke-width",(i===0||i===4)?1.4:1);
});
tg.append("line").attr("x1",colX[0]).attr("x2",colX[4]).attr("y1",tTop).attr("y2",tTop).attr("stroke","#3a3a3a").attr("stroke-width",1.4);
tg.append("line").attr("x1",colX[0]).attr("x2",colX[4]).attr("y1",tBot).attr("y2",tBot).attr("stroke","#3a3a3a").attr("stroke-width",1.4);
tableHeaders.forEach((lines,j)=>{
  lines.forEach((t,k)=>{
    tg.append("text").attr("x",cx[j]).attr("y",1261+k*17.3).attr("dy","0.36em")
      .attr("text-anchor","middle").attr("font-size",17).attr("font-weight","bold").text(t);
  });
});
proteins.forEach((p,i)=>{
  const yy=hBot+i*rowH+rowH/2;
  const col=complexOf[i]==="GFP"?"#ffffff":"#1a1a1a";
  const ital=p==="MRG15"?"italic":"normal";
  [p,ratioHL[i],ratioLH[i]].forEach((t,j)=>{
    tg.append("text").attr("x",cx[j]).attr("y",yy).attr("dy","0.36em").attr("text-anchor","middle")
      .attr("font-size",17).attr("font-style",ital).style("fill",col).text(t);
  });
  if(complexOf[i]!=="GFP" && (i===0||complexOf[i]!==complexOf[i-1])){
    tg.append("text").attr("x",cx[3]).attr("y",yy).attr("dy","0.36em").attr("text-anchor","middle")
      .attr("font-size",17).text(complexOf[i]);
  }
});
</script></body></html>
